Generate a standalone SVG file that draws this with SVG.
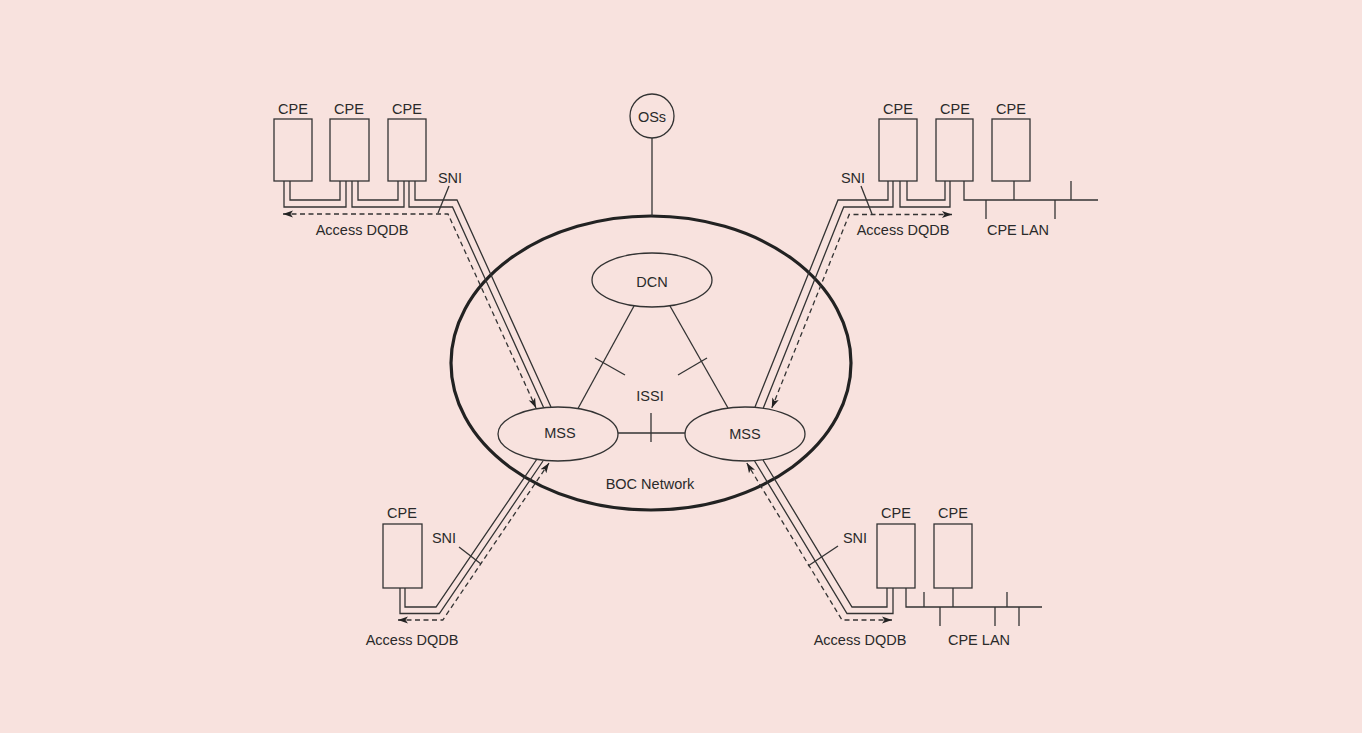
<svg xmlns="http://www.w3.org/2000/svg" width="1362" height="733" viewBox="0 0 1362 733">
<style>
text{font-family:"Liberation Sans",Arial,sans-serif;font-size:14.5px;fill:#2a2a2a;text-anchor:middle}
.box{fill:none;stroke:#333;stroke-width:1.3}
.ln{fill:none;stroke:#333;stroke-width:1.3}
.dash{fill:none;stroke:#333;stroke-width:1.3;stroke-dasharray:5 3.5;marker-start:url(#ah);marker-end:url(#ah)}
.boc{fill:none;stroke:#222;stroke-width:3.2}
</style>
<defs>
<marker id="ah" markerUnits="userSpaceOnUse" markerWidth="11" markerHeight="8" refX="10" refY="4" orient="auto-start-reverse">
<path d="M0,0.5 L10,4 L0,7.5 L2.5,4 Z" fill="#222"/>
</marker>
</defs>
<rect width="1362" height="733" fill="#f8e2de"/>

<g id="boc-network">
<ellipse class="boc" cx="651" cy="363" rx="200" ry="147"/>
<text x="650" y="489">BOC Network</text>
</g>
<g id="oss">
<circle class="box" cx="652" cy="116" r="22"/>
<text x="652" y="121.5">OSs</text>
</g>
<g id="dcn">
<ellipse class="box" cx="652" cy="280" rx="60" ry="27"/>
<text x="652" y="287">DCN</text>
</g>
<g id="mss-left">
<ellipse class="box" cx="558" cy="434" rx="60" ry="27"/>
<text x="560" y="438">MSS</text>
</g>
<g id="mss-right">
<ellipse class="box" cx="745" cy="434" rx="60" ry="27"/>
<text x="745" y="439">MSS</text>
</g>
<g id="issi-label"><text x="650" y="401">ISSI</text></g>

<g id="cpe-tl-1"><rect class="box" x="274" y="119" width="38" height="62"/><text x="293" y="114">CPE</text></g>
<g id="cpe-tl-2"><rect class="box" x="330" y="119" width="39" height="62"/><text x="349" y="114">CPE</text></g>
<g id="cpe-tl-3"><rect class="box" x="388" y="119" width="38" height="62"/><text x="407" y="114">CPE</text></g>
<g id="cpe-tr-1"><rect class="box" x="879" y="119" width="38" height="62"/><text x="898" y="114">CPE</text></g>
<g id="cpe-tr-2"><rect class="box" x="936" y="119" width="37" height="62"/><text x="955" y="114">CPE</text></g>
<g id="cpe-tr-3"><rect class="box" x="992" y="119" width="38" height="62"/><text x="1011" y="114">CPE</text></g>
<g id="cpe-bl-1"><rect class="box" x="383" y="524" width="39" height="64"/><text x="402" y="518">CPE</text></g>
<g id="cpe-br-1"><rect class="box" x="877" y="524" width="38" height="64"/><text x="896" y="518">CPE</text></g>
<g id="cpe-br-2"><rect class="box" x="934" y="524" width="38" height="64"/><text x="953" y="518">CPE</text></g>

<g id="labels">
<text x="450" y="183">SNI</text>
<text x="362" y="235">Access DQDB</text>
<text x="853" y="183">SNI</text>
<text x="903" y="235">Access DQDB</text>
<text x="1018" y="235">CPE LAN</text>
<text x="444" y="543">SNI</text>
<text x="412" y="645">Access DQDB</text>
<text x="855" y="543">SNI</text>
<text x="860" y="645">Access DQDB</text>
<text x="979" y="645">CPE LAN</text>
</g>

<g id="connectors">
<path class="ln" d="M652,138 V216"/>
<path class="ln" d="M634,306 L578,408.5"/>
<path class="ln" d="M670,306 L728,408"/>
<path class="ln" d="M618,433 H685"/>
<path class="ln" d="M651,413 V442"/>
<path class="ln" d="M595,358 L625,375"/>
<path class="ln" d="M678,375 L707,358"/>

<path class="ln" d="M290,181 V200 H340 V181"/>
<path class="ln" d="M284,181 V207 H346 V181"/>
<path class="ln" d="M358,181 V200 H398 V181"/>
<path class="ln" d="M352,181 V207 H404 V181"/>
<path class="ln" d="M415,181 V200 H457 L551,407"/>
<path class="ln" d="M409,181 V207 H452.5 L543.6,407.5"/>
<path class="dash" d="M283,214 H448 L536,408"/>
<path class="ln" d="M449,186 L438,213"/>

<path class="ln" d="M888,181 V200 H838 L755,407"/>
<path class="ln" d="M893,181 V207 H843.7 L763.3,408"/>
<path class="dash" d="M952,214.5 H849.2 L771.8,408"/>
<path class="ln" d="M907,181 V200 H945 V181"/>
<path class="ln" d="M900,181 V207 H950 V181"/>
<path class="ln" d="M861,186 L872,214"/>
<path class="ln" d="M964,181 V200 H1098"/>
<path class="ln" d="M1014,181 V200"/>
<path class="ln" d="M1071,181 V200"/>
<path class="ln" d="M986,200 V219"/>
<path class="ln" d="M1055,200 V219"/>

<path class="ln" d="M405,588 V607 H436 L537,459"/>
<path class="ln" d="M400,588 V613.5 H439.4 L543,461"/>
<path class="dash" d="M398,620 H442.8 L549,463"/>
<path class="ln" d="M459,547 L481,564"/>

<path class="ln" d="M887,588 V607 H852 L763,460"/>
<path class="ln" d="M893,588 V613.5 H847 L754.6,461"/>
<path class="dash" d="M892,620 H842 L746.8,463"/>
<path class="ln" d="M838,546 L808,566"/>
<path class="ln" d="M906,588 V607 H1042"/>
<path class="ln" d="M953,588 V607"/>
<path class="ln" d="M924,592 V607"/>
<path class="ln" d="M1007,592 V607"/>
<path class="ln" d="M940,607 V626"/>
<path class="ln" d="M995,607 V626"/>
<path class="ln" d="M1019,607 V626"/>
</g>
</svg>
